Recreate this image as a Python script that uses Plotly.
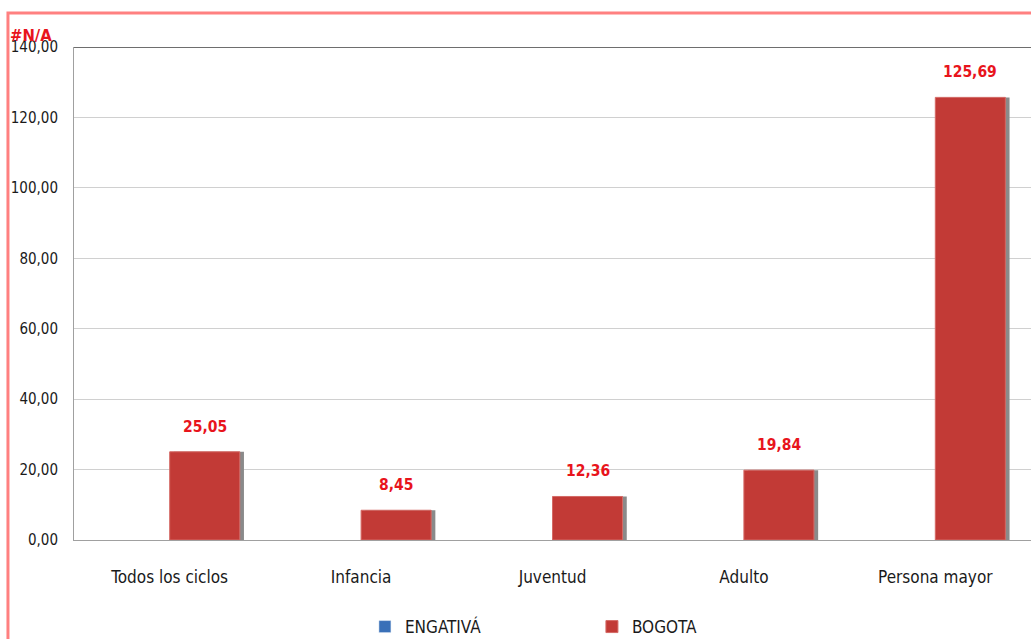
import plotly.graph_objects as go

categories = ["Todos los ciclos", "Infancia", "Juventud", "Adulto", "Persona mayor"]
engativa = [None, None, None, None, None]
bogota = [25.05, 8.45, 12.36, 19.84, 125.69]
label_text = ["25,05", "8,45", "12,36", "19,84", "125,69"]
y_ticks = [0, 20, 40, 60, 80, 100, 120, 140]

FONT = "Liberation Sans Narrow, DejaVu Sans Condensed, Arial Narrow, sans-serif"
BAR_W = 0.366

fig = go.Figure()
fig.add_trace(go.Bar(x=categories, y=engativa, name="ENGATIVÁ",
                     marker=dict(color="#3A70B8"), width=BAR_W, offset=-BAR_W))
# shadow
fig.add_trace(go.Bar(x=categories, y=bogota, showlegend=False, hoverinfo="skip",
                     marker=dict(color="#8A8A8A", line=dict(width=0)),
                     width=BAR_W, offset=0.022))
fig.add_trace(go.Bar(x=categories, y=bogota, name="BOGOTA",
                     marker=dict(color="#C23A36", line=dict(color="#D46A66", width=1)),
                     width=BAR_W, offset=0))

for i, (v, t) in enumerate(zip(bogota, label_text)):
    fig.add_annotation(x=i + BAR_W / 2, y=v, text="<b>" + t + "</b>", showarrow=False,
                       yanchor="middle", yshift=25,
                       font=dict(family=FONT, size=15.5, color="#E8141C"))

fig.add_shape(type="rect", xref="paper", yref="paper",
              x0=-0.069, x1=1.05, y0=-0.3, y1=1.069,
              line=dict(color="#FF8080", width=3), fillcolor="rgba(0,0,0,0)", layer="above")

fig.update_layout(
    width=1031, height=639,
    margin=dict(l=74, r=0, t=47, b=99, autoexpand=False),
    paper_bgcolor="white", plot_bgcolor="white",
    barmode="overlay",
    separators=",.",
    font=dict(family=FONT, size=17, color="#1A1A1A"),
    title=dict(text="<b>#N/A</b>", xref="container", yref="container",
               x=10 / 1031, y=1 - 35 / 639, xanchor="left", yanchor="middle",
               font=dict(family=FONT, size=16.5, color="#E8141C")),
    showlegend=True,
    legend=dict(orientation="h", xref="paper", yref="paper",
                x=0.304, y=-0.14, xanchor="left", yanchor="top",
                entrywidth=182, entrywidthmode="pixels",
                font=dict(family=FONT, size=17, color="#1A1A1A"),
                itemwidth=30, traceorder="normal"),
)
fig.update_yaxes(range=[0, 140], tickvals=y_ticks, tickformat=".2f",
                 tickfont=dict(size=15),
                 showgrid=True, gridcolor="#D0D0D0", gridwidth=1,
                 showline=True, linecolor="#A0A0A0", linewidth=1,
                 ticks="", ticklabelstandoff=12, zeroline=False)
fig.update_xaxes(showline=True, linecolor="#A0A0A0", linewidth=1, mirror=False,
                 ticks="", ticklabelstandoff=22, showgrid=False)
fig.add_shape(type="line", xref="paper", yref="y", x0=0, x1=1, y0=140, y1=140,
              line=dict(color="#6E6E6E", width=2), layer="above")

fig.write_html("out.html", config={"displayModeBar": False},
               post_script="document.body.style.margin='0';document.body.style.overflow='hidden';")
